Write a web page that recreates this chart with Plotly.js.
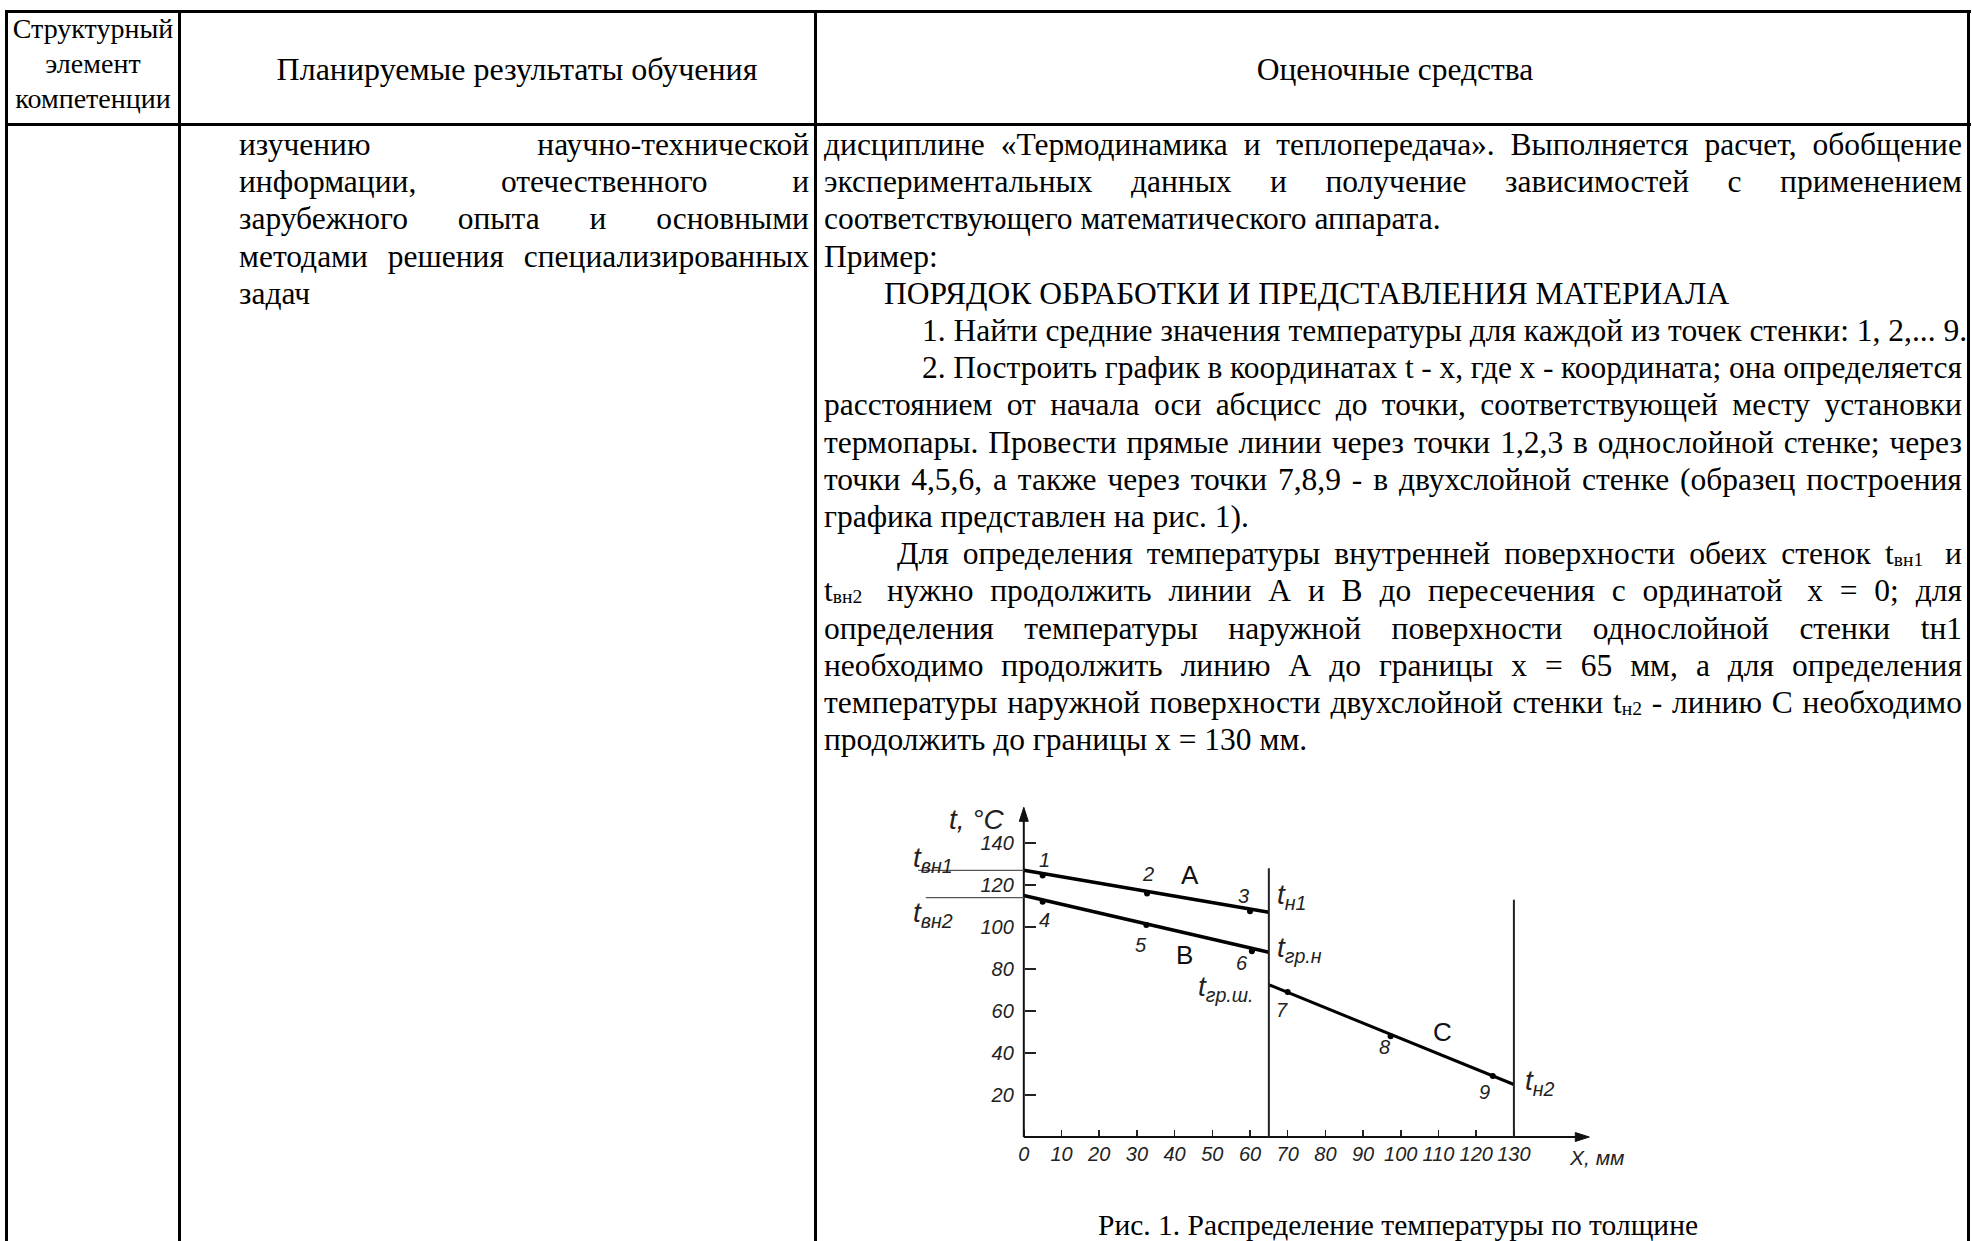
<!DOCTYPE html>
<html>
<head>
<meta charset="utf-8">
<script src="https://cdn.plot.ly/plotly-3.0.1.min.js"></script>
<style>
html,body{margin:0;padding:0;background:#fff;}
body{width:1972px;height:1241px;position:relative;overflow:hidden;font-family:'Liberation Serif','Times New Roman',serif;font-size:31.5px;color:#000;}
.b{position:absolute;background:#000;}
.t{position:absolute;line-height:37.2px;}
.jl{display:flex;justify-content:space-between;white-space:nowrap;}
.ll{white-space:nowrap;text-align:left;}
.c{text-align:center;white-space:nowrap;}
.t sub{font-size:62%;vertical-align:-0.12em;line-height:0;}
#chart{position:absolute;left:873.2px;top:801.3px;width:754px;height:378px;}
</style>
</head>
<body>
<!-- table borders -->
<div class="b" style="left:5px;top:10px;width:1966px;height:3px"></div>
<div class="b" style="left:5px;top:123px;width:1966px;height:3px"></div>
<div class="b" style="left:5px;top:10px;width:3px;height:1231px"></div>
<div class="b" style="left:178px;top:10px;width:3px;height:1231px"></div>
<div class="b" style="left:814px;top:10px;width:3px;height:1231px"></div>
<div class="b" style="left:1967px;top:10px;width:3px;height:1231px"></div>

<!-- header -->
<div class="t c" style="left:8px;top:10.5px;width:170px;font-size:28px;line-height:35.2px;">
  <div>Структурный</div><div>элемент</div><div>компетенции</div>
</div>
<div class="t c" style="left:197px;top:50.6px;width:640px;font-size:32px;">Планируемые результаты обучения</div>
<div class="t c" style="left:817px;top:50.6px;width:1156px;">Оценочные средства</div>

<div id="col2" class="t" style="left:239px;top:126px;width:570px;"></div>
<div id="col3" class="t" style="left:824px;top:126px;width:1138px;"></div>

<div id="chart"></div>

<div class="t c" style="left:823px;top:1207px;width:1150px;font-size:29.5px;">Рис. 1. Распределение температуры по толщине</div>

<script>
// ---- chart data ----
const xTickVals = [0, 10, 20, 30, 40, 50, 60, 70, 80, 90, 100, 110, 120, 130];
const yTickVals = [20, 40, 60, 80, 100, 120, 140];

const lineAX = [0, 65];
const lineAT = [127, 107];
const lineBX = [0, 65];
const lineBT = [115, 88];
const lineCX = [65, 130];
const lineCT = [72.5, 25];

const pointNames = ['1', '2', '3', '4', '5', '6', '7', '8', '9'];
const pointX = [5, 32.7, 60, 5, 32.5, 60.5, 70, 97.3, 124.4];
const pointT = [124.5, 116, 107.5, 112, 101, 88.5, 69, 48, 29];

const wallX = [65, 130];
const wallTop = [128, 113];

const leaderStart = [-28, -26];
const leaderNames = ['t<sub>вн1</sub>', 't<sub>вн2</sub>'];
const lineNames = ['А', 'В', 'С'];

const axisEndX = 150;
const axisEndY = 157;

// ---- document text ----
const sub = s => '<sub>' + s + '</sub>';
const col2Lines = [
  ['j', 'изучению научно-технической'],
  ['j', 'информации, отечественного и'],
  ['j', 'зарубежного опыта и основными'],
  ['j', 'методами решения специализированных'],
  ['l', 'задач']
];
const col3Lines = [
  ['j', 'дисциплине «Термодинамика и теплопередача». Выполняется расчет, обобщение'],
  ['j', 'экспериментальных данных и получение зависимостей с применением'],
  ['l', 'соответствующего математического аппарата.'],
  ['l', 'Пример:'],
  ['l', 'ПОРЯДОК ОБРАБОТКИ И ПРЕДСТАВЛЕНИЯ МАТЕРИАЛА', 60],
  ['l', '1. Найти средние значения температуры для каждой из точек стенки: 1, 2,... 9.', 98],
  ['j', '2. Построить график в координатах t - x, где x - координата; она определяется', 98],
  ['j', 'расстоянием от начала оси абсцисс до точки, соответствующей месту установки'],
  ['j', 'термопары. Провести прямые линии через точки 1,2,3 в однослойной стенке; через'],
  ['j', 'точки 4,5,6, а также через точки 7,8,9 - в двухслойной стенке (образец построения'],
  ['l', 'графика представлен на рис. 1).'],
  ['j', 'Для определения температуры внутренней поверхности обеих стенок t' + sub('вн1') + '&nbsp; и', 73],
  ['j', 't' + sub('вн2') + '&nbsp; нужно продолжить линии А и В до пересечения с ординатой&nbsp; x = 0; для'],
  ['j', 'определения температуры наружной поверхности однослойной стенки tн1'],
  ['j', 'необходимо продолжить линию А до границы x = 65 мм, а для определения'],
  ['j', 'температуры наружной поверхности двухслойной стенки t' + sub('н2') + ' - линию С необходимо'],
  ['l', 'продолжить до границы x = 130 мм.']
];
function renderLines(id, lines) {
  const box = document.getElementById(id);
  lines.forEach(([kind, html, indent]) => {
    const d = document.createElement('div');
    if (indent) d.style.paddingLeft = indent + 'px';
    if (kind === 'j') {
      d.className = 'jl';
      d.innerHTML = html.split(' ').map(w => '<span>' + w + '</span>').join('');
    } else {
      d.className = 'll';
      d.innerHTML = html;
    }
    box.appendChild(d);
  });
}
renderLines('col2', col2Lines);
renderLines('col3', col3Lines);

// ---- chart ----
const xRange = [-40, 160];
const yRange = [-20, 160];
const pxPerX = 754 / (xRange[1] - xRange[0]);
const pxPerY = 378 / (yRange[1] - yRange[0]);
const hand = {family: 'Liberation Sans, Arial, sans-serif', size: 20, color: '#222', style: 'italic'};
const handBig = {family: 'Liberation Sans, Arial, sans-serif', size: 28, color: '#222', style: 'italic'};
const upright = {family: 'Liberation Sans, Arial, sans-serif', size: 26, color: '#111'};

const traces = [
  {x: lineAX, y: lineAT, mode: 'lines', line: {color: '#000', width: 3.5}, hoverinfo: 'skip'},
  {x: lineBX, y: lineBT, mode: 'lines', line: {color: '#000', width: 3.5}, hoverinfo: 'skip'},
  {x: lineCX, y: lineCT, mode: 'lines', line: {color: '#000', width: 3}, hoverinfo: 'skip'},
  {x: pointX, y: pointT, mode: 'markers', marker: {color: '#000', size: 6}, hoverinfo: 'skip'}
];

const shapes = [];
// axes lines
shapes.push({type: 'line', xref: 'x', yref: 'y', x0: 0, x1: axisEndX - 2, y0: 0, y1: 0, line: {color: '#111', width: 2}});
shapes.push({type: 'line', xref: 'x', yref: 'y', x0: 0, x1: 0, y0: 0, y1: axisEndY - 3, line: {color: '#111', width: 2}});
// arrowheads (sizes in pixels converted to data units)
const aL = 14, aW = 4.5;
shapes.push({type: 'path', xref: 'x', yref: 'y', fillcolor: '#111', line: {color: '#111', width: 1},
  path: `M ${axisEndX} 0 L ${axisEndX - aL / pxPerX} ${aW / pxPerY} L ${axisEndX - aL / pxPerX} ${-aW / pxPerY} Z`});
shapes.push({type: 'path', xref: 'x', yref: 'y', fillcolor: '#111', line: {color: '#111', width: 1},
  path: `M 0 ${axisEndY} L ${aW / pxPerX} ${axisEndY - aL / pxPerY} L ${-aW / pxPerX} ${axisEndY - aL / pxPerY} Z`});
// wall boundaries
wallX.forEach((wx, i) => shapes.push({type: 'line', xref: 'x', yref: 'y', x0: wx, x1: wx, y0: 0, y1: wallTop[i], line: {color: '#222', width: 2}}));
// leader lines for inner surface temperatures
const leaderLevels = [lineAT[0], lineBT[0] - 1];
leaderStart.forEach((lx, i) => shapes.push({type: 'line', xref: 'x', yref: 'y', x0: lx, x1: 0, y0: leaderLevels[i], y1: leaderLevels[i], line: {color: '#555', width: 1.2}}));

const annotations = [];
// point labels
const labelShift = [[2, 16], [1, 19], [-7, 15], [2, -18], [-5, -20], [-10, -12], [-6, -18], [-6, -11], [-8, -16]];
pointNames.forEach((n, i) => annotations.push({x: pointX[i], y: pointT[i], xref: 'x', yref: 'y', text: n, showarrow: false,
  xshift: labelShift[i][0], yshift: labelShift[i][1], font: hand}));

// line letters
const letterPos = [[44, 124.9], [42.7, 86.8], [111.1, 50.1]];
lineNames.forEach((n, i) => annotations.push({x: letterPos[i][0], y: letterPos[i][1], xref: 'x', yref: 'y', text: n, showarrow: false, font: upright}));

// inner surface labels
const leaderLabelPos = [[-24, 132], [-24, 106]];
leaderNames.forEach((n, i) => annotations.push({x: leaderLabelPos[i][0], y: leaderLabelPos[i][1], xref: 'x', yref: 'y', text: n, showarrow: false, font: handBig}));

// other labels
const otherLabels = [
  {x: -12.5, y: 151, text: 't, °C'},
  {x: 71, y: 114.4, text: 't<sub>н1</sub>'},
  {x: 73, y: 89.2, text: 't<sub>гр.н</sub>'},
  {x: 53.6, y: 70.5, text: 't<sub>гр.ш.</sub>'},
  {x: 137, y: 26, text: 't<sub>н2</sub>'},
  {x: 152, y: -9.8, text: 'X, мм'}
];
otherLabels.forEach(o => annotations.push({x: o.x, y: o.y, xref: 'x', yref: 'y', text: o.text, showarrow: false,
  font: (o.text === 'X, мм') ? {...hand, size: 21} : handBig}));

const layout = {
  width: 754, height: 378,
  margin: {l: 0, r: 0, t: 0, b: 0},
  paper_bgcolor: 'rgba(0,0,0,0)', plot_bgcolor: 'rgba(0,0,0,0)',
  showlegend: false,
  xaxis: {range: xRange, anchor: 'free', position: (0 - yRange[0]) / (yRange[1] - yRange[0]),
    showline: false, showgrid: false, zeroline: false,
    tickmode: 'array', tickvals: xTickVals, ticktext: xTickVals.map(String),
    ticks: 'inside', ticklen: 7, tickwidth: 1.5, tickcolor: '#222', tickfont: hand, ticklabelstandoff: 3, fixedrange: true},
  yaxis: {range: yRange, anchor: 'free', position: (0 - xRange[0]) / (xRange[1] - xRange[0]),
    showline: false, showgrid: false, zeroline: false,
    tickmode: 'array', tickvals: yTickVals, ticktext: yTickVals.map(String),
    ticks: 'inside', ticklen: 11, tickwidth: 1.5, tickcolor: '#222', tickfont: hand, ticklabelstandoff: 10, fixedrange: true},
  shapes: shapes,
  annotations: annotations
};

Plotly.newPlot('chart', traces, layout, {staticPlot: true, displayModeBar: false});
</script>
</body>
</html>
